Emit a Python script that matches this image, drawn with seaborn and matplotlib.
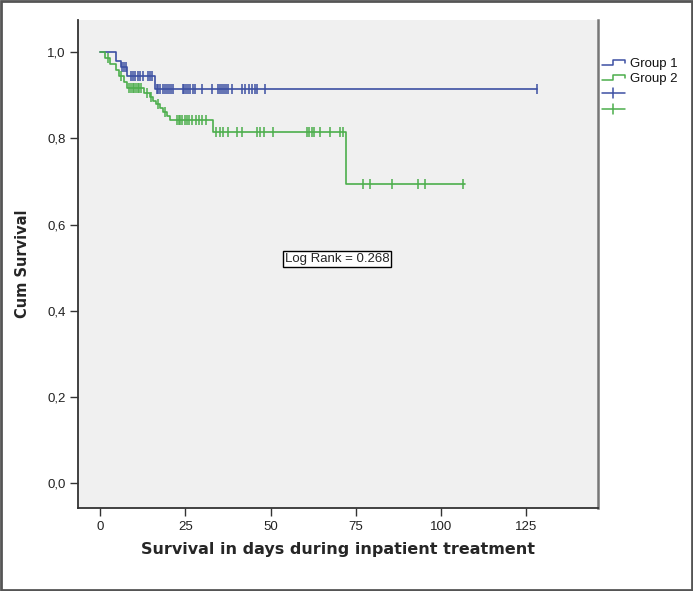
import numpy as np
import pandas as pd
import matplotlib
matplotlib.use('Agg')
import matplotlib.pyplot as plt
import seaborn as sns
from matplotlib.lines import Line2D
from matplotlib.patches import Rectangle


# Kaplan-Meier steps
g1_event_days = [0, 4.5, 6, 8, 16]
g1_surv = [1.0, 0.98, 0.965, 0.945, 0.915]
g1_last_day = 128
g1_censored = [6.5, 7, 7.5, 9, 9.6, 10.3, 11, 11.7, 12.5, 14, 14.7, 15.3,
               16.6, 17.1, 17.6, 18.4, 19.1, 19.6, 20.1, 20.8, 21.4,
               24.3, 24.7, 25.2, 25.7, 26.4, 27.1, 27.9, 29.8, 32.8,
               34.7, 35.2, 35.7, 36.4, 37, 37.6, 38.6, 41.6, 42.5, 43.7,
               44.5, 45.5, 46, 48.4, 128]

g2_event_days = [0, 1.5, 3.0, 4.5, 5.5, 7, 7.8, 13, 14.5, 15.5, 16.5, 17.5,
                 18.5, 19.5, 20.5, 21.5, 33, 72]
g2_surv = [1.0, 0.986, 0.972, 0.958, 0.944, 0.93, 0.916, 0.906, 0.897, 0.888,
           0.879, 0.870, 0.861, 0.851, 0.842, 0.842, 0.814, 0.695]
g2_last_day = 107
g2_censored = [2.3, 6, 8.5, 9, 9.5, 10, 10.5, 11, 11.5, 12, 13.8, 15, 17, 19,
               22.5, 23, 23.5, 24, 25, 25.5, 26, 27, 28, 29, 30, 31,
               34, 35, 36, 37.5, 40, 41.6, 46, 47, 48, 50.8, 60.7, 61.3, 62,
               62.6, 64.6, 67.5, 70.4, 71.3, 77, 79, 85.6, 93.3, 95.4, 106.5]

group_names = ['Group 1', 'Group 2']
group_colors = ['#3d50a3', '#4cae4c']
x_ticks = [0, 25, 50, 75, 100, 125]
y_ticks = [0.0, 0.2, 0.4, 0.6, 0.8, 1.0]
y_tick_labels = ['0,0', '0,2', '0,4', '0,6', '0,8', '1,0']
log_rank_text = 'Log Rank = 0.268'


def surv_at(days, event_days, surv):
    idx = np.searchsorted(event_days, days, side='right') - 1
    return np.array(surv)[idx]


sns.set_style('white')
plt.rcParams['font.family'] = ['Liberation Sans', 'DejaVu Sans']

fig = plt.figure(figsize=(6.93, 5.91), dpi=100)
ax = fig.add_axes([78 / 693, 1 - 508 / 591, (598 - 78) / 693, (508 - 20) / 591])
ax.set_facecolor('#f0f0f0')

groups = [(g1_event_days, g1_surv, g1_last_day, g1_censored),
          (g2_event_days, g2_surv, g2_last_day, g2_censored)]
for (ev, sv, last, cens), col in zip(groups, group_colors):
    line = pd.DataFrame({'day': list(ev) + [last], 'surv': list(sv) + [sv[-1]]})
    sns.lineplot(data=line, x='day', y='surv', drawstyle='steps-post',
                 color=col, lw=1.2, estimator=None, ax=ax)
    cdf = pd.DataFrame({'day': cens, 'surv': surv_at(cens, ev, sv)})
    sns.scatterplot(data=cdf, x='day', y='surv', marker='|', s=55,
                    color=col, linewidth=1.1, ax=ax, zorder=3)

ax.set_xlim(-6.5, 146)
ax.set_ylim(-0.058, 1.075)
ax.set_xticks(x_ticks)
ax.set_yticks(y_ticks)
ax.set_yticklabels(y_tick_labels)
ax.tick_params(axis='both', direction='out', length=6, width=1, color='#333',
               labelsize=9.5, labelcolor='#222', pad=3,
               left=True, bottom=True)
ax.set_xlabel('Survival in days during inpatient treatment', fontsize=11.5,
              fontweight='bold', family='DejaVu Sans', labelpad=7)
ax.set_ylabel('Cum Survival', fontsize=10.5, fontweight='bold',
              family='DejaVu Sans', labelpad=12)

for side in ['left', 'bottom']:
    ax.spines[side].set_color('#333')
    ax.spines[side].set_linewidth(1.3)
ax.spines['top'].set_visible(False)
ax.spines['right'].set_color('#777')
ax.spines['right'].set_linewidth(1.8)

ax.text(69.5, 0.521, log_rank_text, fontsize=9.5, ha='center', va='center',
        bbox=dict(boxstyle='square,pad=0.15', fc='white', ec='black', lw=1))


# legend drawn in pixel space to the right of the panel
def px(x, y):
    return x / 693, 1 - y / 591


for i, (name, col) in enumerate(zip(group_names, group_colors)):
    yb = 65 + 15 * i
    xs, ys = zip(*[px(602, yb), px(613, yb), px(613, yb - 5), px(625, yb - 5), px(625, yb - 2)])
    fig.add_artist(Line2D(xs, ys, color=col, lw=1.1))
    tx, ty = px(630, yb - 1)
    fig.text(tx, ty, name, fontsize=9.5, va='center', ha='left', color='#111')

for i, col in enumerate(group_colors):
    yc = 93 + 16 * i
    xs, ys = zip(*[px(602, yc), px(625, yc)])
    fig.add_artist(Line2D(xs, ys, color=col, lw=1.1))
    xs, ys = zip(*[px(613, yc - 5), px(613, yc + 5)])
    fig.add_artist(Line2D(xs, ys, color=col, lw=1.1))

fig.add_artist(Rectangle((0.002, 0.002), 0.996, 0.996, transform=fig.transFigure,
                         fill=False, ec='#555', lw=2))

fig.savefig('out.png', dpi=100)
